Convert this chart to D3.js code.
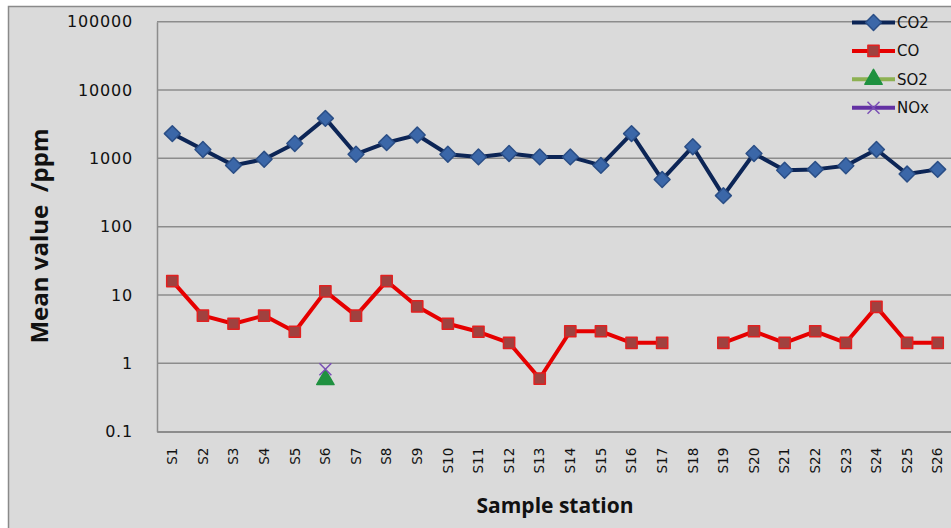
<!DOCTYPE html>
<html>
<head>
<meta charset="utf-8">
<script src="https://cdn.jsdelivr.net/npm/d3@7"></script>
<style>
    html, body { margin: 0; padding: 0; background: #fff; }
    svg text { font-family: "DejaVu Sans", sans-serif; fill: #111; }
</style>
</head>
<body>
<script>
"use strict";

// sample stations along the x axis
const stations = ["S1", "S2", "S3", "S4", "S5", "S6", "S7", "S8", "S9", "S10",
    "S11", "S12", "S13", "S14", "S15", "S16", "S17", "S18", "S19", "S20",
    "S21", "S22", "S23", "S24", "S25", "S26"];

// mean values in ppm, null = not measured
const co2 = [2300, 1350, 790, 970, 1650, 3850, 1150, 1700, 2200, 1150,
    1050, 1180, 1050, 1050, 790, 2300, 490, 1480, 285, 1180,
    670, 690, 780, 1350, 590, 690];
const co = [16, 5, 3.8, 5, 2.9, 11.3, 5, 16, 6.8, 3.8,
    2.9, 2, 0.6, 2.95, 2.95, 2, 2, null, 2, 2.95,
    2, 2.95, 2, 6.7, 2, 2];
const so2 = [null, null, null, null, null, 0.58, null, null, null, null,
    null, null, null, null, null, null, null, null, null, null,
    null, null, null, null, null, null];
const nox = [null, null, null, null, null, 0.82, null, null, null, null,
    null, null, null, null, null, null, null, null, null, null,
    null, null, null, null, null, null];

const yTicks = [0.1, 1, 10, 100, 1000, 10000, 100000];

const series = [
    { name: "CO2", values: co2, line: "#0c2556", fill: "#3b67a8", stroke: "#2a4e86", symbol: "diamond" },
    { name: "CO",  values: co,  line: "#e60000", fill: "#a0413f", stroke: "#e22020", symbol: "square" },
    { name: "SO2", values: so2, line: "#8db152", fill: "#1f9140", stroke: "#1f9140", symbol: "triangle" },
    { name: "NOx", values: nox, line: "#6331a3", fill: "none",    stroke: "#7a4fb5", symbol: "cross" }
];

const width = 951, height = 528;
const plot = { left: 157, right: 953, top: 21.7, bottom: 431.7 };

const svg = d3.select("body").append("svg")
    .attr("width", width)
    .attr("height", height);

// chart area
svg.append("rect")
    .attr("x", 8.5).attr("y", 6.5)
    .attr("width", width + 10).attr("height", height)
    .attr("fill", "#dadada")
    .attr("stroke", "#8a8a8a")
    .attr("stroke-width", 1.5);

const x = d3.scaleBand().domain(stations).range([plot.left, plot.right]);
const y = d3.scaleLog().domain([0.1, 100000]).range([plot.bottom, plot.top]);

// gridlines
svg.append("g")
    .selectAll("line")
    .data(yTicks)
    .join("line")
    .attr("x1", plot.left).attr("x2", plot.right)
    .attr("y1", d => y(d)).attr("y2", d => y(d))
    .attr("stroke", "#8c8c8c")
    .attr("stroke-width", 1.5);

// y axis
const yAxis = svg.append("g")
    .attr("transform", `translate(${plot.left},0)`)
    .call(d3.axisLeft(y).tickValues(yTicks).tickFormat(d => String(d)).tickSize(0).tickPadding(24));
yAxis.select(".domain").attr("stroke", "#8c8c8c").attr("stroke-width", 1.5);
yAxis.selectAll("text")
    .style("font-size", "16px")
    .style("letter-spacing", "0.8px")
    .attr("fill", "#111");

// x axis
const xAxis = svg.append("g")
    .attr("transform", `translate(0,${plot.bottom})`)
    .call(d3.axisBottom(x).tickSize(0));
xAxis.select(".domain").attr("stroke", "#8c8c8c").attr("stroke-width", 1.5);
xAxis.selectAll("text")
    .style("font-size", "13.5px")
    .attr("fill", "#111")
    .attr("transform", "rotate(-90)")
    .attr("text-anchor", "end")
    .attr("x", -16)
    .attr("y", 0)
    .attr("dy", "0.35em");

// axis titles
svg.append("text")
    .attr("transform", "translate(48,236) rotate(-90)")
    .attr("text-anchor", "middle")
    .style("font-family", "'Open Sans', sans-serif")
    .style("font-weight", "bold")
    .style("font-size", "24px")
    .style("white-space", "pre")
    .text("Mean value  /ppm");

svg.append("text")
    .attr("x", 555).attr("y", 513)
    .attr("text-anchor", "middle")
    .style("font-family", "'Open Sans', sans-serif")
    .style("font-weight", "bold")
    .style("font-size", "21px")
    .text("Sample station");

// marker drawing
function drawMarker(sel, s) {
    if (s.symbol === "cross") {
        sel.append("path")
            .attr("d", "M-6,-6L6,6M-6,6L6,-6")
            .attr("stroke", s.stroke)
            .attr("stroke-width", 1.5)
            .attr("fill", "none");
        return;
    }
    const sym = s.symbol === "diamond" ? d3.symbolDiamond2
        : s.symbol === "square" ? d3.symbolSquare2 : d3.symbolTriangle;
    const size = s.symbol === "triangle" ? 130 : 160;
    sel.append("path")
        .attr("d", d3.symbol(sym, size))
        .attr("fill", s.fill)
        .attr("stroke", s.stroke)
        .attr("stroke-width", 1.5)
        .attr("stroke-linejoin", "round");
}

const line = d3.line()
    .defined(d => d.v !== null)
    .x(d => x(d.s) + x.bandwidth() / 2)
    .y(d => y(d.v));

series.forEach(s => {
    const pts = stations.map((st, i) => ({ s: st, v: s.values[i] }));
    const g = svg.append("g");
    g.append("path")
        .datum(pts)
        .attr("d", line)
        .attr("fill", "none")
        .attr("stroke", s.line)
        .attr("stroke-width", 4)
        .attr("stroke-linejoin", "round");
    g.selectAll("g.mk")
        .data(pts.filter(d => d.v !== null))
        .join("g")
        .attr("class", "mk")
        .attr("transform", d => `translate(${x(d.s) + x.bandwidth() / 2},${y(d.v)})`)
        .each(function () { drawMarker(d3.select(this), s); });
});

// legend
const legend = svg.append("g")
    .selectAll("g")
    .data(series)
    .join("g")
    .attr("transform", (d, i) => `translate(852,${22.5 + i * 28.4})`);
legend.append("line")
    .attr("x1", 0).attr("x2", 43)
    .attr("stroke", d => d.line)
    .attr("stroke-width", 4);
legend.append("g")
    .attr("transform", "translate(21.5,0)")
    .each(function (d) { drawMarker(d3.select(this), d); });
legend.append("text")
    .attr("x", 45).attr("dy", "0.36em")
    .style("font-size", "15px")
    .text(d => d.name);
</script>
</body>
</html>
